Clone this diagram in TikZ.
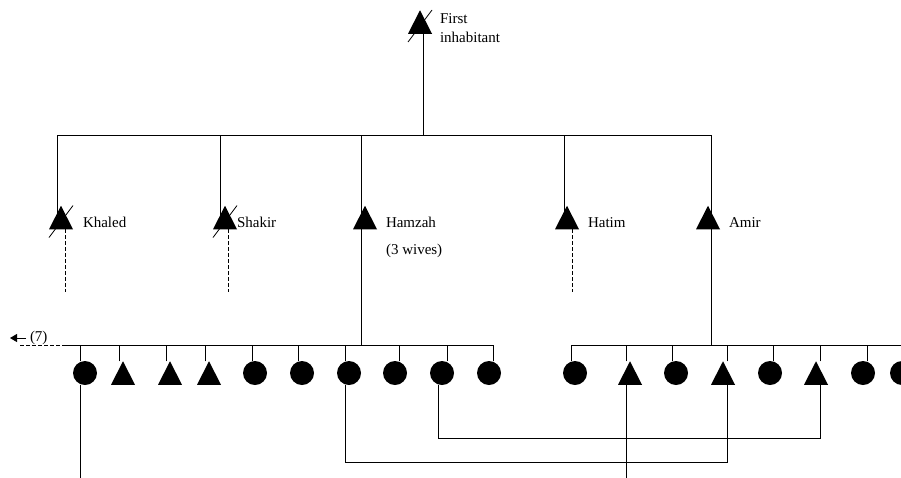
\documentclass[tikz,border=0pt]{standalone}
\usepackage{fontspec}
\setmainfont{Liberation Serif}
\usetikzlibrary{arrows.meta}
\tikzset{
  ln/.style={line width=0.9pt, black},
  dln/.style={line width=0.9pt, black, dash pattern=on 4pt off 2pt},
  strike/.style={line width=0.8pt, black},
  fem/.style={circle, fill=black, minimum size=24pt, inner sep=0pt, outer sep=0pt},
  male/.style={rectangle, minimum width=24pt, minimum height=23.5pt, inner sep=0pt, outer sep=0pt,
    path picture={\fill[black] (path picture bounding box.south west) -- (path picture bounding box.south east) -- (path picture bounding box.north) -- cycle;}},
  lbl/.style={inner sep=0pt, outer sep=0pt, anchor=base west, font=\fontsize{15pt}{18pt}\selectfont},
  arr/.style={line width=0.9pt, -{Triangle[length=7pt,width=8pt]}}
}
\begin{document}
\begin{tikzpicture}[x=1pt,y=-1pt]
\clip (0,0) rectangle (901,477);
\fill[white] (0,0) rectangle (901,477);

% top person
\node[male] (first) at (420,22) {};
\node[lbl] (lfirst) at (440,23) {First};
\node[lbl] (lfirst2) at (440,42) {inhabitant};

% second generation
\node[male] (khaled) at (61,217.5) {};
\node[male] (shakir) at (225,217.5) {};
\node[male] (hamzah) at (365,217.5) {};
\node[male] (hatim) at (567,217.5) {};
\node[male] (amir) at (708,217.5) {};
\node[lbl] (lkhaled) at (83,227) {Khaled};
\node[lbl] (lshakir) at (237,227) {Shakir};
\node[lbl] (lhamzah) at (386,227) {Hamzah};
\node[lbl] (lwives) at (386,254) {(3 wives)};
\node[lbl] (lhatim) at (588,227) {Hatim};
\node[lbl] (lamir) at (729,227) {Amir};

% third generation, left
\node[fem] (c1) at (85,373) {};
\node[male] (c2) at (123,373) {};
\node[male] (c3) at (170,373) {};
\node[male] (c4) at (209,373) {};
\node[fem] (c5) at (255,373) {};
\node[fem] (c6) at (302,373) {};
\node[fem] (c7) at (349,373) {};
\node[fem] (c8) at (395,373) {};
\node[fem] (c9) at (442,373) {};
\node[fem] (c10) at (489,373) {};
% third generation, right
\node[fem] (r1) at (575,373) {};
\node[male] (r2) at (630,373) {};
\node[fem] (r3) at (676,373) {};
\node[male] (r4) at (723,373) {};
\node[fem] (r5) at (770,373) {};
\node[male] (r6) at (816,373) {};
\node[fem] (r7) at (863,373) {};
\node[fem] (r8) at (902,373) {};

% strikes
\foreach \p in {first,khaled,shakir}
  \draw[strike] ([shift={(-12,20)}]\p.center) -- ([shift={(12,-12)}]\p.center);

% top connections
\coordinate (tbl) at (57,135);
\coordinate (tbr) at (712,135);
\draw[ln] (tbl) -- (tbr);
\draw[ln] ([xshift=3pt]first.south) -- ++(0,101.25);
\foreach \p/\d in {khaled/-4,shakir/-5,hamzah/-4,hatim/-3,amir/3}
  \draw[ln] ([xshift=\d pt]\p.center) -- ++(0,-82.5);
\foreach \p/\d in {khaled/4,shakir/3,hatim/5}
  \draw[dln] ([xshift=\d pt]\p.south) -- ++(0,62.75);
\draw[ln] ([xshift=-4pt]hamzah.center) -- ++(0,127.5);
\draw[ln] ([xshift=3pt]amir.center) -- ++(0,127.5);

% sibling bars
\coordinate (bl) at (65,345);
\coordinate (bldash) at (20,345);
\coordinate (blend) at (493,345);
\coordinate (br) at (571,345);
\coordinate (brend) at (905,345);
\draw[ln] (bl) -- (blend);
\draw[dln] (bldash) -- (bl);
\draw[ln] (br) -- (brend);
\foreach \p/\d in {c1/-5,c2/-4,c3/-4,c4/-4,c5/-3,c6/-4,c7/-4,c8/4,c9/5,c10/4,r1/-4,r2/-4,r3/-4,r4/4,r5/3,r6/4,r7/4}
  \draw[ln] ([xshift=\d pt]\p.north) -- ++(0,-16);

% (7) arrow
\coordinate (a7s) at (26,338);
\coordinate (a7e) at (10,338);
\draw[arr] (a7s) -- (a7e);
\node[lbl] (l7) at (30,341) {(7)};

% marriage / descent lines
\draw[ln] ([xshift=-5pt]c1.south) -- ++(0,95);
\draw[ln] ([xshift=-4pt]r2.south) -- ++(0,95);
\draw[ln] ([xshift=-4pt]c7.south) -- ++(0,77) -| ([xshift=4pt]r4.south);
\draw[ln] ([xshift=-4pt]c9.south) -- ++(0,53) -| ([xshift=4pt]r6.south);
\end{tikzpicture}
\end{document}
